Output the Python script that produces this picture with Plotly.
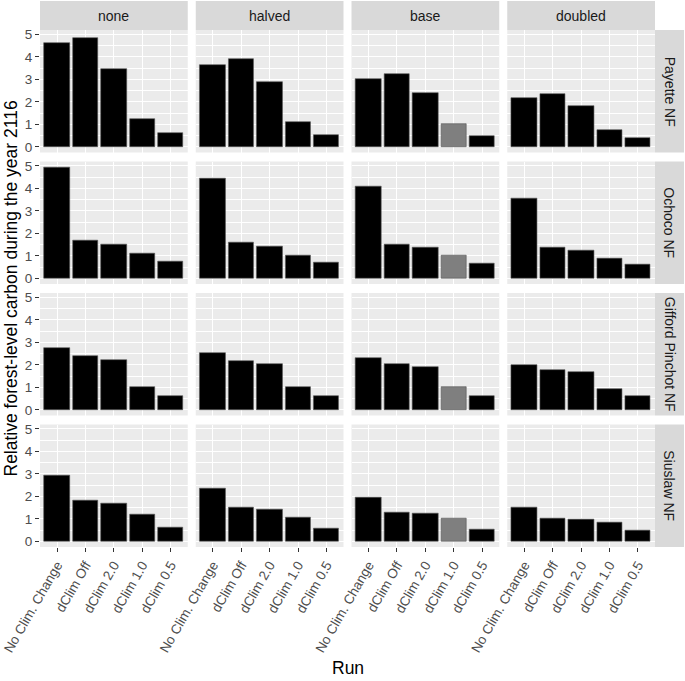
import plotly.graph_objects as go
from plotly.subplots import make_subplots

# ---------------- data ----------------
runs = ["No Clim. Change", "dClim Off", "dClim 2.0", "dClim 1.0", "dClim 0.5"]
scenarios = ["none", "halved", "base", "doubled"]
forests = ["Payette NF", "Ochoco NF", "Gifford Pinchot NF", "Siuslaw NF"]

payette_none = [4.60, 4.82, 3.47, 1.26, 0.64]
payette_halved = [3.66, 3.91, 2.89, 1.09, 0.55]
payette_base = [3.00, 3.25, 2.41, 1.00, 0.49]
payette_doubled = [2.19, 2.35, 1.81, 0.77, 0.40]

ochoco_none = [4.95, 1.70, 1.49, 1.09, 0.74]
ochoco_halved = [4.45, 1.61, 1.43, 1.04, 0.72]
ochoco_base = [4.08, 1.49, 1.36, 1.00, 0.67]
ochoco_doubled = [3.55, 1.36, 1.26, 0.90, 0.64]

gifford_none = [2.75, 2.39, 2.21, 1.03, 0.64]
gifford_halved = [2.52, 2.18, 2.04, 1.00, 0.64]
gifford_base = [2.30, 2.03, 1.90, 1.00, 0.63]
gifford_doubled = [2.01, 1.78, 1.69, 0.94, 0.60]

siuslaw_none = [2.91, 1.81, 1.68, 1.20, 0.60]
siuslaw_halved = [2.34, 1.49, 1.41, 1.08, 0.59]
siuslaw_base = [1.96, 1.27, 1.22, 1.00, 0.55]
siuslaw_doubled = [1.53, 1.00, 0.99, 0.86, 0.50]

y_ticks = [0, 1, 2, 3, 4, 5]
highlight_scenario = "base"
highlight_run = "dClim 1.0"

table = {
    "Payette NF": [payette_none, payette_halved, payette_base, payette_doubled],
    "Ochoco NF": [ochoco_none, ochoco_halved, ochoco_base, ochoco_doubled],
    "Gifford Pinchot NF": [gifford_none, gifford_halved, gifford_base, gifford_doubled],
    "Siuslaw NF": [siuslaw_none, siuslaw_halved, siuslaw_base, siuslaw_doubled],
}

# ---------------- layout geometry ----------------
W, H = 685, 681
L, R, T, B = 40, 30, 30, 134
PW = W - L - R
PH = H - T - B
hgap, vgap = 8, 9

FONT = "Liberation Sans, Arial, Helvetica, sans-serif"
BLACK = "#000000"
GREY_BAR = "#7F7F7F"
TICK_SIZE = 13.5
STRIP_SIZE = 14
TITLE_SIZE = 17.5

fig = make_subplots(rows=4, cols=4,
                    horizontal_spacing=hgap / PW,
                    vertical_spacing=vgap / PH)

all_vals = [v for f in forests for s in table[f] for v in s]
ymax = max(all_vals)
ylo, yhi = -0.05 * ymax, ymax * 1.05

for r, forest in enumerate(forests, start=1):
    for c, scen in enumerate(scenarios, start=1):
        vals = table[forest][c - 1]
        colors = [GREY_BAR if (scen == highlight_scenario and run == highlight_run) else BLACK
                  for run in runs]
        fig.add_trace(go.Bar(x=runs, y=vals, marker=dict(color=colors,
                                                         line=dict(color="#555555", width=0.6)),
                             width=0.9, showlegend=False, hoverinfo="x+y"), row=r, col=c)
        fig.update_xaxes(row=r, col=c, type="category", categoryorder="array",
                         categoryarray=runs, range=[-0.6, 4.6],
                         showgrid=True, gridcolor="white", gridwidth=1.1,
                         showline=False, zeroline=False,
                         showticklabels=(r == 4), ticks="outside" if r == 4 else "",
                         ticklen=4, tickwidth=1, tickcolor="#333333",
                         tickangle=-60,
                         tickfont=dict(family=FONT, size=TICK_SIZE, color="#4D4D4D"))
        fig.update_yaxes(row=r, col=c, range=[ylo, yhi],
                         tickvals=y_ticks,
                         showgrid=True, gridcolor="white", gridwidth=1.1,
                         minor=dict(dtick=0.5, tick0=0.5, showgrid=True,
                                    gridcolor="white", gridwidth=0.5),
                         showline=False, zeroline=False,
                         showticklabels=(c == 1), ticks="outside" if c == 1 else "",
                         ticklen=4, tickwidth=1, tickcolor="#333333",
                         tickfont=dict(family=FONT, size=TICK_SIZE, color="#4D4D4D"))

fig.update_layout(plot_bgcolor="#EBEBEB")

shapes = []
annotations = []


def px_to_x(px):
    return (px - L) / PW


def px_to_y(py):
    return (H - B - py) / PH


col_w = (PW - 3 * hgap) / 4
row_h = (PH - 3 * vgap) / 4
RIGHT_EDGE = 684

# top strips
for i, scen in enumerate(scenarios):
    x0 = L + i * (col_w + hgap)
    x1 = x0 + col_w
    shapes.append(dict(type="rect", xref="paper", yref="paper",
                       x0=px_to_x(x0), x1=px_to_x(x1),
                       y0=px_to_y(T), y1=px_to_y(1),
                       fillcolor="#D9D9D9", line=dict(width=0), layer="below"))
    annotations.append(dict(text=scen, xref="paper", yref="paper",
                            x=px_to_x((x0 + x1) / 2), y=px_to_y((T + 1) / 2),
                            xanchor="center", yanchor="middle", showarrow=False,
                            font=dict(family=FONT, size=STRIP_SIZE, color="#1A1A1A")))

# right strips
for j, forest in enumerate(forests):
    y0 = T + j * (row_h + vgap)
    y1 = y0 + row_h
    shapes.append(dict(type="rect", xref="paper", yref="paper",
                       x0=px_to_x(L + PW), x1=px_to_x(RIGHT_EDGE),
                       y0=px_to_y(y1), y1=px_to_y(y0),
                       fillcolor="#D9D9D9", line=dict(width=0), layer="below"))
    annotations.append(dict(text=forest, xref="paper", yref="paper",
                            x=px_to_x((L + PW + RIGHT_EDGE) / 2), y=px_to_y((y0 + y1) / 2),
                            xanchor="center", yanchor="middle", showarrow=False,
                            textangle=90,
                            font=dict(family=FONT, size=STRIP_SIZE, color="#1A1A1A")))

# axis titles
annotations.append(dict(text="Relative forest-level carbon during the year 2116",
                        xref="paper", yref="paper", x=px_to_x(10), y=0.5,
                        xanchor="center", yanchor="middle", showarrow=False,
                        textangle=-90,
                        font=dict(family=FONT, size=TITLE_SIZE, color="#000000")))
annotations.append(dict(text="Run", xref="paper", yref="paper",
                        x=0.5, y=px_to_y(668),
                        xanchor="center", yanchor="middle", showarrow=False,
                        font=dict(family=FONT, size=TITLE_SIZE, color="#000000")))

fig.update_layout(
    width=W, height=H,
    margin=dict(l=L, r=R, t=T, b=B, autoexpand=False),
    paper_bgcolor="white",
    bargap=0,
    shapes=shapes,
    annotations=annotations,
    font=dict(family=FONT),
)

fig.write_html("out.html",
               config={"displayModeBar": False},
               post_script="document.body.style.margin='0';document.body.style.padding='0';")
